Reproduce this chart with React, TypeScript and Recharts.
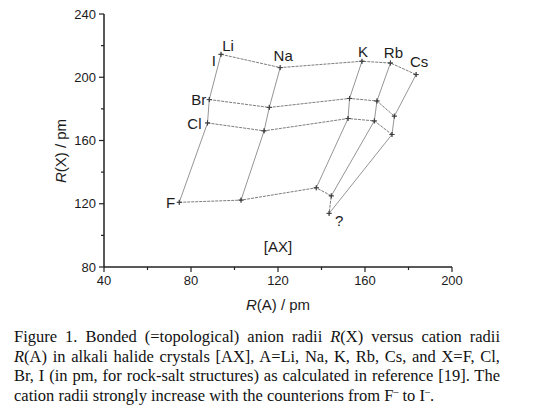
import React from "react";
import { ScatterChart, Scatter, XAxis, YAxis, ReferenceDot, Label } from "recharts";

const alkali = ["Li", "Na", "K", "Rb", "Cs"];
const halides = ["F", "Cl", "Br", "I"];

// R(A) / R(X) in pm, one entry per alkali (Li, Na, K, Rb, Cs)
const rA_F = [74.6, 103.0, 137.6, 144.5, 143.5];
const rX_F = [120.9, 122.3, 130.1, 125.0, 113.9];
const rA_Cl = [87.6, 113.6, 152.2, 164.3, 172.4];
const rX_Cl = [171.1, 166.1, 173.9, 172.4, 163.8];
const rA_Br = [88.4, 116.0, 152.9, 165.5, 173.5];
const rX_Br = [185.9, 180.9, 186.6, 185.0, 175.4];
const rA_I = [93.8, 121.0, 158.6, 171.7, 183.5];
const rX_I = [214.5, 206.1, 210.1, 209.0, 201.7];

const xTicks = [40, 60, 80, 100, 120, 140, 160, 180, 200];
const yTicks = [80, 100, 120, 140, 160, 180, 200, 220, 240];
const xMajor = [40, 80, 120, 160, 200];
const yMajor = [80, 120, 160, 200, 240];

const rA: Record<string, number[]> = { F: rA_F, Cl: rA_Cl, Br: rA_Br, I: rA_I };
const rX: Record<string, number[]> = { F: rX_F, Cl: rX_Cl, Br: rX_Br, I: rX_I };

const point = (h: string, i: number) => ({ x: rA[h][i], y: rX[h][i], a: alkali[i], h });

const rows = halides.map((h) => ({ h, data: alkali.map((_, i) => point(h, i)) }));
const columns = alkali.map((a, i) => ({ a, data: ["I", "Br", "Cl", "F"].map((h) => point(h, i)) }));

const SANS = "'Liberation Sans', Arial, sans-serif";
const INK = "#1c1c1c";

const Cross = (p: any) => (
  <path
    d={`M${p.cx - 2.5},${p.cy}h5M${p.cx},${p.cy - 2.5}v5`}
    stroke="#3a3a3a"
    strokeWidth={0.8}
    fill="none"
  />
);

const alkaliOffset: Record<string, [number, number]> = {
  Li: [7, -9],
  Na: [3, -12],
  K: [1, -10],
  Rb: [3, -11],
  Cs: [3, -13],
};
const halideOffset: Record<string, [number, number]> = {
  I: [-5, 6],
  Br: [-3, 0],
  Cl: [-6, 1],
  F: [-4, 0],
};

const AlkaliText = (p: any) => {
  const [dx, dy] = alkaliOffset[p.payload.a];
  return (
    <text x={p.cx + dx} y={p.cy + dy + 5.5} textAnchor="middle" fontSize={15} fontFamily={SANS} fill={INK}>
      {p.payload.a}
    </text>
  );
};

const HalideText = (p: any) => {
  const [dx, dy] = halideOffset[p.payload.h];
  return (
    <text x={p.cx + dx} y={p.cy + dy + 5.5} textAnchor="end" fontSize={15} fontFamily={SANS} fill={INK}>
      {p.payload.h}
    </text>
  );
};

const QueryText = (p: any) => (
  <text x={p.cx + 10} y={p.cy + 12.5} textAnchor="middle" fontSize={15} fontFamily={SANS} fill={INK}>
    ?
  </text>
);

const XTick = ({ x, y, payload }: any) => {
  const major = xMajor.includes(payload.value);
  return (
    <g>
      <line x1={x} x2={x} y1={y} y2={y + (major ? 5 : 3)} stroke="#222" strokeWidth={1.2} />
      {major && (
        <text x={x} y={y + 18} textAnchor="middle" fontSize={13} fontFamily={SANS} fill={INK}>
          {payload.value}
        </text>
      )}
    </g>
  );
};

const YTick = ({ x, y, payload }: any) => {
  const major = yMajor.includes(payload.value);
  return (
    <g>
      <line x1={x} x2={x - (major ? 5 : 3)} y1={y} y2={y} stroke="#222" strokeWidth={1.2} />
      {major && (
        <text x={x - 8} y={y + 4.5} textAnchor="end" fontSize={13} fontFamily={SANS} fill={INK}>
          {payload.value}
        </text>
      )}
    </g>
  );
};

const XTitle = () => (
  <text x={278} y={310} textAnchor="middle" fontSize={15} fontFamily={SANS} fill={INK}>
    <tspan fontStyle="italic">R</tspan>(A) / pm
  </text>
);

const YTitle = () => (
  <text transform="translate(66,151) rotate(-90)" textAnchor="middle" fontSize={15} fontFamily={SANS} fill={INK}>
    <tspan fontStyle="italic">R</tspan>(X) / pm
  </text>
);

const minus = <span style={{ fontSize: 10, verticalAlign: "super", lineHeight: 0 }}>–</span>;

const lineStyle: React.CSSProperties = { textAlign: "justify", textAlignLast: "justify" };

export default function App() {
  return (
    <div style={{ position: "relative", width: 540, height: 416, margin: -8, background: "#fff" }}>
      <ScatterChart width={540} height={320} margin={{ top: 14, right: 88, bottom: 13, left: 44 }}>
        <XAxis
          type="number"
          dataKey="x"
          domain={[40, 200]}
          ticks={xTicks}
          interval={0}
          tick={XTick}
          tickLine={false}
          tickSize={0}
          tickMargin={0}
          height={40}
          axisLine={{ stroke: "#222", strokeWidth: 1.5 }}
          allowDataOverflow
        >
          <Label content={XTitle} />
        </XAxis>
        <YAxis
          type="number"
          dataKey="y"
          domain={[80, 240]}
          ticks={yTicks}
          interval={0}
          tick={YTick}
          tickLine={false}
          tickSize={0}
          tickMargin={0}
          width={60}
          axisLine={{ stroke: "#222", strokeWidth: 1.5 }}
          allowDataOverflow
        >
          <Label content={YTitle} />
        </YAxis>

        {columns.map((c) => (
          <Scatter
            key={`col-${c.a}`}
            data={c.data}
            line={{ stroke: "#7a7a7a", strokeWidth: 0.8 }}
            lineType="joint"
            shape={Cross}
            isAnimationActive={false}
          />
        ))}
        {rows.map((r) => (
          <Scatter
            key={`row-${r.h}`}
            data={r.data}
            line={{ stroke: "#5a5a5a", strokeWidth: 0.8, strokeDasharray: "3 1" }}
            lineType="joint"
            shape={Cross}
            isAnimationActive={false}
          />
        ))}

        <Scatter data={rows[3].data} shape={AlkaliText} isAnimationActive={false} />
        <Scatter data={columns[0].data} shape={HalideText} isAnimationActive={false} />
        <Scatter data={[columns[4].data[3]]} shape={QueryText} isAnimationActive={false} />

        <ReferenceDot
          x={120}
          y={93}
          r={0}
          stroke="none"
          label={{ value: "[AX]", position: "center", fontSize: 15, fontFamily: SANS, fill: INK }}
        />
      </ScatterChart>

      <div
        style={{
          position: "absolute",
          left: 14,
          top: 327,
          width: 486,
          fontFamily: "'Liberation Serif', 'Times New Roman', serif",
          fontSize: 16.5,
          lineHeight: "19.7px",
          color: "#111",
        }}
      >
        <div style={lineStyle}>
          Figure 1. Bonded (=topological) anion radii <i>R</i>(X) versus cation radii
        </div>
        <div style={lineStyle}>
          <i>R</i>(A) in alkali halide crystals [AX], A=Li, Na, K, Rb, Cs, and X=F, Cl,
        </div>
        <div style={lineStyle}>
          Br, I (in pm, for rock-salt structures) as calculated in reference [19]. The
        </div>
        <div>
          cation radii strongly increase with the counterions from F{minus} to I{minus}.
        </div>
      </div>
    </div>
  );
}
